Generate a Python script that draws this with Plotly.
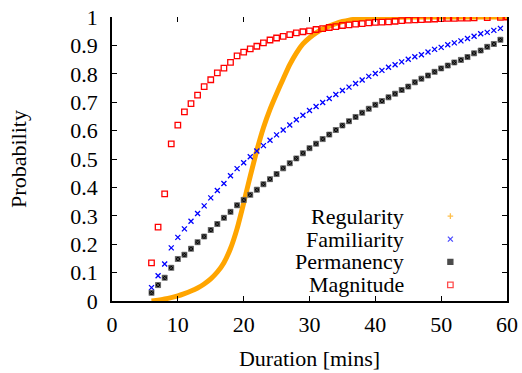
import plotly.graph_objects as go

# ---------------- data ----------------
reg_x = [6, 7, 8, 9, 10, 11, 12, 13, 14, 15, 16, 17, 18, 19, 20, 21, 22, 23, 24, 25,
         26, 27, 28, 29, 30, 31, 32, 33, 34, 35, 36, 38, 40, 42, 45, 50, 55, 60]
reg_y = [0.0, 0.003, 0.007, 0.012, 0.018, 0.026, 0.035, 0.046, 0.06, 0.078, 0.102,
         0.135, 0.185, 0.255, 0.345, 0.44, 0.53, 0.61, 0.675, 0.73, 0.782, 0.832,
         0.873, 0.905, 0.927, 0.944, 0.958, 0.968, 0.977, 0.984, 0.989, 0.995, 0.998,
         0.999, 1.0, 1.0, 1.0, 1.0]

fam_x = list(range(6, 60))
fam_y = [0.047, 0.089, 0.13, 0.187, 0.224, 0.254, 0.281, 0.308, 0.335, 0.363, 0.389,
         0.414, 0.441, 0.466, 0.487, 0.508, 0.528, 0.547, 0.566, 0.585, 0.602, 0.62,
         0.638, 0.654, 0.671, 0.685, 0.699, 0.713, 0.727, 0.741, 0.753, 0.766, 0.778,
         0.791, 0.801, 0.812, 0.823, 0.832, 0.842, 0.851, 0.86, 0.867, 0.877, 0.886,
         0.893, 0.902, 0.909, 0.916, 0.924, 0.932, 0.941, 0.946, 0.953, 0.96]

per_x = list(range(6, 60))
per_y = [0.029, 0.056, 0.082, 0.117, 0.148, 0.163, 0.184, 0.207, 0.227, 0.25, 0.271,
         0.293, 0.314, 0.337, 0.356, 0.374, 0.392, 0.411, 0.429, 0.447, 0.467, 0.485,
         0.502, 0.52, 0.538, 0.554, 0.57, 0.586, 0.602, 0.618, 0.633, 0.648, 0.663,
         0.677, 0.691, 0.704, 0.717, 0.73, 0.743, 0.755, 0.77, 0.783, 0.794, 0.807,
         0.819, 0.829, 0.84, 0.849, 0.859, 0.872, 0.882, 0.895, 0.905, 0.92]

mag_x = list(range(6, 56)) + [57, 59, 60]
mag_y = [0.134, 0.26, 0.377, 0.553, 0.619, 0.666, 0.695, 0.725, 0.755, 0.779, 0.803,
         0.82, 0.84, 0.863, 0.876, 0.888, 0.897, 0.909, 0.919, 0.926, 0.932, 0.938,
         0.944, 0.948, 0.951, 0.956, 0.959, 0.963, 0.966, 0.97, 0.972, 0.975, 0.977,
         0.979, 0.981, 0.982, 0.983, 0.985, 0.987, 0.989, 0.99, 0.991, 0.992, 0.993,
         0.994, 0.995, 0.995, 0.996, 0.996, 0.997, 0.998, 0.999, 1.0]

series_names = ["Regularity", "Familiarity", "Permanency", "Magnitude"]
x_ticks = [0, 10, 20, 30, 40, 50, 60]
y_ticks = [0, 0.1, 0.2, 0.3, 0.4, 0.5, 0.6, 0.7, 0.8, 0.9, 1]

# ---------------- styles ----------------
FONT = "Liberation Serif"
FS = 22
ORANGE = "#FFA500"
BLUE = "#0000FF"
BLACK = "#000000"
RED = "#FF0000"

fig = go.Figure()

fig.add_trace(go.Scatter(x=reg_x, y=reg_y, mode="lines",
                         line=dict(color=ORANGE, width=5, shape="spline", smoothing=0.5),
                         showlegend=False))
fig.add_trace(go.Scatter(x=fam_x, y=fam_y, mode="markers",
                         marker=dict(symbol="x-thin-open", size=5, color=BLUE,
                                     line=dict(color=BLUE, width=1.3)),
                         showlegend=False))
fig.add_trace(go.Scatter(x=per_x, y=per_y, mode="markers",
                         marker=dict(symbol="square-x", size=5, color=BLACK,
                                     line=dict(color="#666666", width=0.8)),
                         showlegend=False))
fig.add_trace(go.Scatter(x=mag_x, y=mag_y, mode="markers",
                         marker=dict(symbol="square-open", size=5.5, color=RED,
                                     line=dict(color=RED, width=1.3)),
                         showlegend=False))

# legend (text right-aligned, key to the right, as in the original)
LEG_TEXT_X = 44.6
LEG_KEY_X = 51.4
LEG_ROWS = [0.299, 0.218, 0.138, 0.057]
key_symbols = ["cross-thin-open", "x-thin-open", "square-x", "square-open"]
key_colors = [ORANGE, BLUE, BLACK, RED]
key_sizes = [4, 5, 5, 5.5]
fig.add_trace(go.Scatter(
    x=[LEG_KEY_X] * 4, y=LEG_ROWS, xaxis="x2", mode="markers",
    marker=dict(symbol=key_symbols, size=key_sizes, color=key_colors,
                line=dict(color=key_colors, width=1.3)),
    showlegend=False, hoverinfo="skip"))
for name, yy in zip(series_names, LEG_ROWS):
    fig.add_annotation(x=LEG_TEXT_X, y=yy, xref="x", yref="y", text=name,
                       showarrow=False, xanchor="right", yanchor="middle",
                       font=dict(family=FONT, size=FS, color="black"))

axis_common = dict(ticks="inside", ticklen=5, tickwidth=1, tickcolor="black",
                   showgrid=False, zeroline=False, automargin=False,
                   tickfont=dict(family=FONT, size=FS, color="black"))

fig.update_layout(
    template="none",
    width=522, height=373,
    margin=dict(l=112, r=15, t=17, b=72),
    paper_bgcolor="white", plot_bgcolor="white",
    font=dict(family=FONT, size=FS, color="black"),
    showlegend=False,
    xaxis=dict(range=[0, 60], tickvals=x_ticks, ticktext=[str(v) for v in x_ticks],
               showline=True, linecolor="black", linewidth=1.5, mirror=False,
               ticklabelstandoff=3,
               title=dict(text="Duration [mins]", standoff=14,
                          font=dict(family=FONT, size=FS, color="black")),
               **axis_common),
    xaxis2=dict(range=[0, 60], tickvals=x_ticks, overlaying="x", side="top",
                showline=False, showticklabels=False, **axis_common),
    yaxis=dict(range=[0, 1], tickvals=y_ticks, ticktext=[f"{v:g}" for v in y_ticks],
               showline=True, linecolor="black", linewidth=1.5, mirror="ticks",
               ticklabelstandoff=8,
               title=dict(text="Probability", standoff=38,
                          font=dict(family=FONT, size=FS, color="black")),
               **axis_common),
)

fig.write_html("out.html")
